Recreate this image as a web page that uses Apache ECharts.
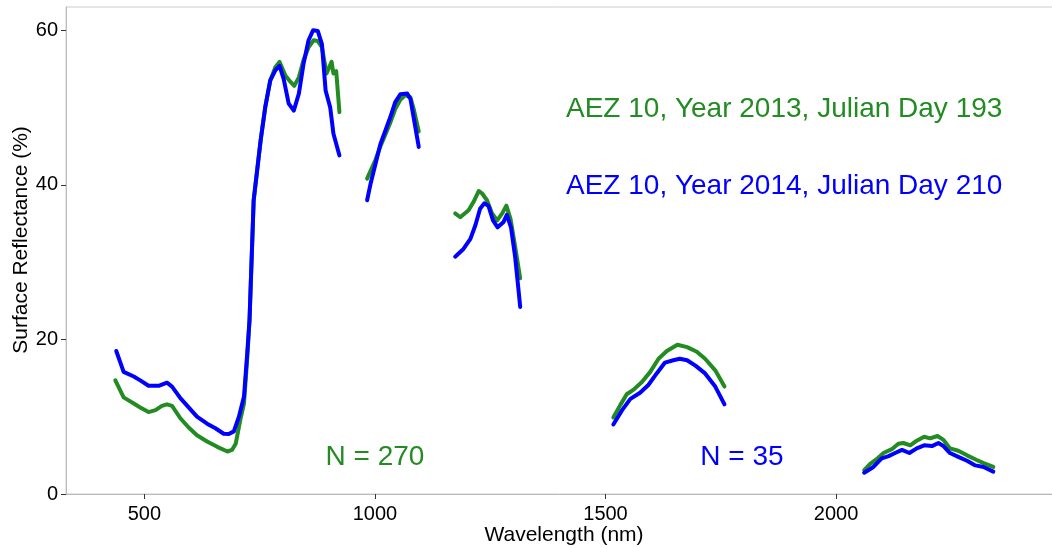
<!DOCTYPE html>
<html>
<head>
<meta charset="utf-8">
<script src="https://cdn.jsdelivr.net/npm/echarts@6/dist/echarts.min.js"></script>
<style>
html,body{margin:0;padding:0;background:#fff;}
#chart{width:1052px;height:548px;}
</style>
</head>
<body>
<div id="chart"></div>
<script>
// Wavelengths (nm) and surface reflectance (%) ; null separates the band segments
const wl2013 = [437,455,477,491,509,524,538,549,560,578,596,614,636,658,680,690,698,708,716,723,728,737,752,762,773,784,793,806,817,825,835,845,856,867,876,885,895,906,910,916,923, null,
  983,1001,1012,1033,1044,1055,1066,1077,1084,1095, null,
  1174,1185,1203,1214,1225,1232,1243,1254,1265,1276,1285,1294,1304,1315, null,
  1517,1532,1546,1561,1579,1597,1615,1633,1656,1677,1698,1716,1738,1758, null,
  2061,2074,2088,2103,2121,2135,2146,2161,2175,2191,2204,2220,2233,2247,2265,2284,2305,2320,2341];
const refl2013 = [14.7,12.5,11.7,11.2,10.6,10.85,11.4,11.6,11.4,9.8,8.6,7.6,6.8,6.1,5.5,5.7,6.5,9.6,11.7,17.5,22.5,38,45.7,50,53.5,55.2,55.9,54.1,53.3,52.8,53.9,56.1,57.8,58.7,58.6,57.8,54.4,55.9,54.4,54.7,49.4, null,
  40.8,43.2,45.0,48.0,49.8,51.0,51.6,51.3,49.8,46.9, null,
  36.3,35.8,36.7,37.8,39.2,38.9,38.0,36.3,35.4,36.3,37.3,35.6,32.0,27.9, null,
  9.9,11.5,12.9,13.5,14.5,15.8,17.5,18.5,19.3,19.0,18.4,17.5,16.0,13.9, null,
  3.1,3.9,4.5,5.3,5.8,6.5,6.6,6.3,6.9,7.4,7.2,7.5,7.0,5.9,5.6,5.0,4.4,4.0,3.5];

const wl2014 = [439,455,477,491,509,531,549,560,578,596,614,636,654,672,683,694,705,716,723,728,737,752,762,773,784,793,802,813,824,835,845,856,866,876,885,893,903,910,914,923, null,
  983,990,1012,1033,1044,1055,1070,1077,1084,1095, null,
  1174,1192,1207,1218,1228,1237,1246,1256,1266,1279,1286,1295,1304,1311,1315, null,
  1517,1536,1554,1575,1593,1611,1629,1647,1661,1677,1695,1716,1738,1758, null,
  2061,2081,2099,2114,2128,2143,2159,2175,2191,2208,2222,2233,2247,2265,2284,2302,2320,2341];
const refl2014 = [18.5,15.8,15.2,14.7,14.0,14.0,14.4,13.9,12.4,11.2,10.0,9.1,8.5,7.8,7.75,8.1,10.0,12.6,18.2,22.5,38,45.7,50,53.5,54.8,55.4,53.7,50.5,49.6,51.8,55.6,58.7,60.0,59.9,58.2,52.2,50.0,46.6,46.4,43.8, null,
  38.0,40.0,45.3,48.7,50.7,51.7,51.8,51.1,48.7,44.9, null,
  30.7,31.7,33.0,34.8,36.9,37.6,37.3,35.4,34.5,35.2,36.1,34.5,30.7,26.6,24.2, null,
  9.0,10.85,12.3,13.1,14.1,15.6,17.0,17.3,17.5,17.3,16.6,15.6,13.9,11.6, null,
  2.75,3.5,4.6,4.9,5.3,5.7,5.3,5.9,6.3,6.2,6.6,6.2,5.3,4.8,4.3,3.7,3.5,2.9];

const xTicks = [500, 1000, 1500, 2000];
const yTicks = [0, 20, 40, 60];
const xTitle = 'Wavelength (nm)';
const yTitle = 'Surface Reflectance (%)';
const label2013 = 'AEZ 10, Year 2013, Julian Day 193';
const label2014 = 'AEZ 10, Year 2014, Julian Day 210';
const nLabel2013 = 'N = 270';
const nLabel2014 = 'N = 35';

const GREEN = '#228B22';
const BLUE = '#0000FF';
const FONT = "'Liberation Sans', Arial, sans-serif";

function pairs(xs, ys) {
  return xs.map((x, i) => [x, ys[i]]);
}

const chart = echarts.init(document.getElementById('chart'), null, {renderer: 'canvas'});
chart.setOption({
  animation: false,
  backgroundColor: '#ffffff',
  grid: {
    left: 66, top: 7, width: 996, height: 487,
    containLabel: false, outerBoundsMode: 'none',
    show: true, borderColor: '#cccccc', borderWidth: 1, backgroundColor: 'transparent'
  },
  xAxis: {
    type: 'value', min: 330, max: 2490,
    axisLine: {show: true, lineStyle: {color: '#bbbbbb', width: 1}},
    axisTick: {show: true, length: 5, lineStyle: {color: '#333333'}, customValues: xTicks},
    axisLabel: {fontFamily: FONT, fontSize: 20, color: '#000', margin: 10, customValues: xTicks,
                formatter: v => String(v)},
    splitLine: {show: false}
  },
  yAxis: {
    type: 'value', min: 0, max: 63,
    axisLine: {show: true, lineStyle: {color: '#bbbbbb', width: 1}},
    axisTick: {show: true, length: 5, lineStyle: {color: '#333333'}, customValues: yTicks},
    axisLabel: {fontFamily: FONT, fontSize: 20, color: '#000', margin: 8, customValues: yTicks,
                formatter: v => String(v)},
    splitLine: {show: false}
  },
  series: [
    {
      type: 'line', name: label2013, data: pairs(wl2013, refl2013),
      showSymbol: false, symbol: 'none', connectNulls: false,
      lineStyle: {color: GREEN, width: 4, join: 'round', cap: 'round'}
    },
    {
      type: 'line', name: label2014, data: pairs(wl2014, refl2014),
      showSymbol: false, symbol: 'none', connectNulls: false,
      lineStyle: {color: BLUE, width: 4, join: 'round', cap: 'round'}
    }
  ],
  graphic: [
    {type: 'text', x: 564, y: 535,
     style: {text: xTitle, font: "21px " + FONT, fill: '#000', align: 'center', verticalAlign: 'middle'}},
    {type: 'text', x: 21, y: 240, rotation: Math.PI / 2,
     style: {text: yTitle, font: "21px " + FONT, fill: '#000', align: 'center', verticalAlign: 'middle'}},
    {type: 'text', x: 566, y: 109,
     style: {text: label2013, font: "28px " + FONT, fill: GREEN, align: 'left', verticalAlign: 'middle'}},
    {type: 'text', x: 566, y: 186,
     style: {text: label2014, font: "28px " + FONT, fill: BLUE, align: 'left', verticalAlign: 'middle'}},
    {type: 'text', x: 375, y: 457,
     style: {text: nLabel2013, font: "28px " + FONT, fill: GREEN, align: 'center', verticalAlign: 'middle'}},
    {type: 'text', x: 742, y: 457,
     style: {text: nLabel2014, font: "28px " + FONT, fill: BLUE, align: 'center', verticalAlign: 'middle'}}
  ]
});
</script>
</body>
</html>
